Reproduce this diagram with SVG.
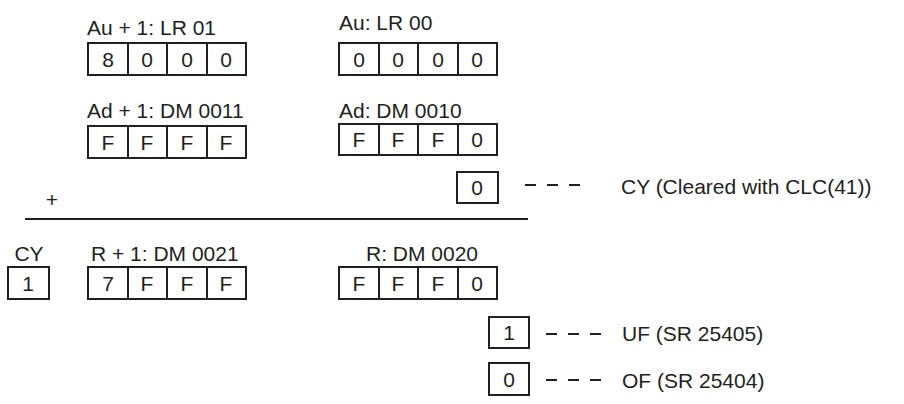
<svg xmlns="http://www.w3.org/2000/svg" width="904" height="404" viewBox="0 0 904 404">
<style>
text{font-family:"Liberation Sans",Arial,sans-serif;font-size:21px;fill:#231f20}
.c{text-anchor:middle}
.b{fill:#fff;stroke:#231f20;stroke-width:2}
.l{stroke:#231f20;stroke-width:2;fill:none}
.d{stroke:#231f20;stroke-width:2;stroke-dasharray:11,11;fill:none}
</style>
<rect width="904" height="404" fill="#fff"/>
<g id="au1">
<text x="87" y="35">Au + 1: LR 01</text>
<rect class="b" x="88" y="43" width="158" height="32"/>
<path class="l" d="M128 43v32M167 43v32M207 43v32"/>
<text class="c" x="108" y="67">8</text><text class="c" x="147" y="67">0</text><text class="c" x="187" y="67">0</text><text class="c" x="226" y="67">0</text>
</g>
<g id="au">
<text x="339" y="30">Au: LR 00</text>
<rect class="b" x="339" y="43" width="158" height="32"/>
<path class="l" d="M379 43v32M418 43v32M458 43v32"/>
<text class="c" x="359" y="67">0</text><text class="c" x="398" y="67">0</text><text class="c" x="438" y="67">0</text><text class="c" x="477" y="67">0</text>
</g>
<g id="ad1">
<text x="87" y="118">Ad + 1: DM 0011</text>
<rect class="b" x="88" y="126" width="158" height="32"/>
<path class="l" d="M128 126v32M167 126v32M207 126v32"/>
<text class="c" x="108" y="150">F</text><text class="c" x="147" y="150">F</text><text class="c" x="187" y="150">F</text><text class="c" x="226" y="150">F</text>
</g>
<g id="ad">
<text x="339" y="118">Ad: DM 0010</text>
<rect class="b" x="339" y="124" width="158" height="31"/>
<path class="l" d="M379 124v31M418 124v31M458 124v31"/>
<text class="c" x="359" y="147">F</text><text class="c" x="398" y="147">F</text><text class="c" x="438" y="147">F</text><text class="c" x="477" y="147">0</text>
</g>
<g id="cyin">
<rect class="b" x="457" y="172" width="41" height="31"/>
<text class="c" x="477" y="195">0</text>
<text x="621" y="194">CY (Cleared with CLC(41))</text>
</g>
<g id="plus"><text class="c" x="52" y="207">+</text></g>
<g id="cyout">
<text class="c" x="29" y="261">CY</text>
<rect class="b" x="8" y="267" width="41" height="32"/>
<text class="c" x="28" y="291">1</text>
</g>
<g id="r1">
<text x="91" y="261">R + 1: DM 0021</text>
<rect class="b" x="88" y="267" width="158" height="32"/>
<path class="l" d="M128 267v32M167 267v32M207 267v32"/>
<text class="c" x="108" y="291">7</text><text class="c" x="147" y="291">F</text><text class="c" x="187" y="291">F</text><text class="c" x="226" y="291">F</text>
</g>
<g id="r">
<text x="366" y="261">R: DM 0020</text>
<rect class="b" x="339" y="267" width="158" height="32"/>
<path class="l" d="M379 267v32M418 267v32M458 267v32"/>
<text class="c" x="359" y="291">F</text><text class="c" x="398" y="291">F</text><text class="c" x="438" y="291">F</text><text class="c" x="477" y="291">0</text>
</g>
<g id="uf">
<rect class="b" x="489" y="317" width="40" height="31"/>
<text class="c" x="509" y="340">1</text>
<text x="622" y="341">UF (SR 25405)</text>
</g>
<g id="of">
<rect class="b" x="489" y="363" width="40" height="32"/>
<text class="c" x="509" y="387">0</text>
<text x="622" y="388">OF (SR 25404)</text>
</g>
<g id="connectors">
<path class="l" d="M25 219H528"/>
<path class="d" d="M525 185H580"/>
<path class="d" d="M546 334H601"/>
<path class="d" d="M546 380H601"/>
</g>
</svg>
